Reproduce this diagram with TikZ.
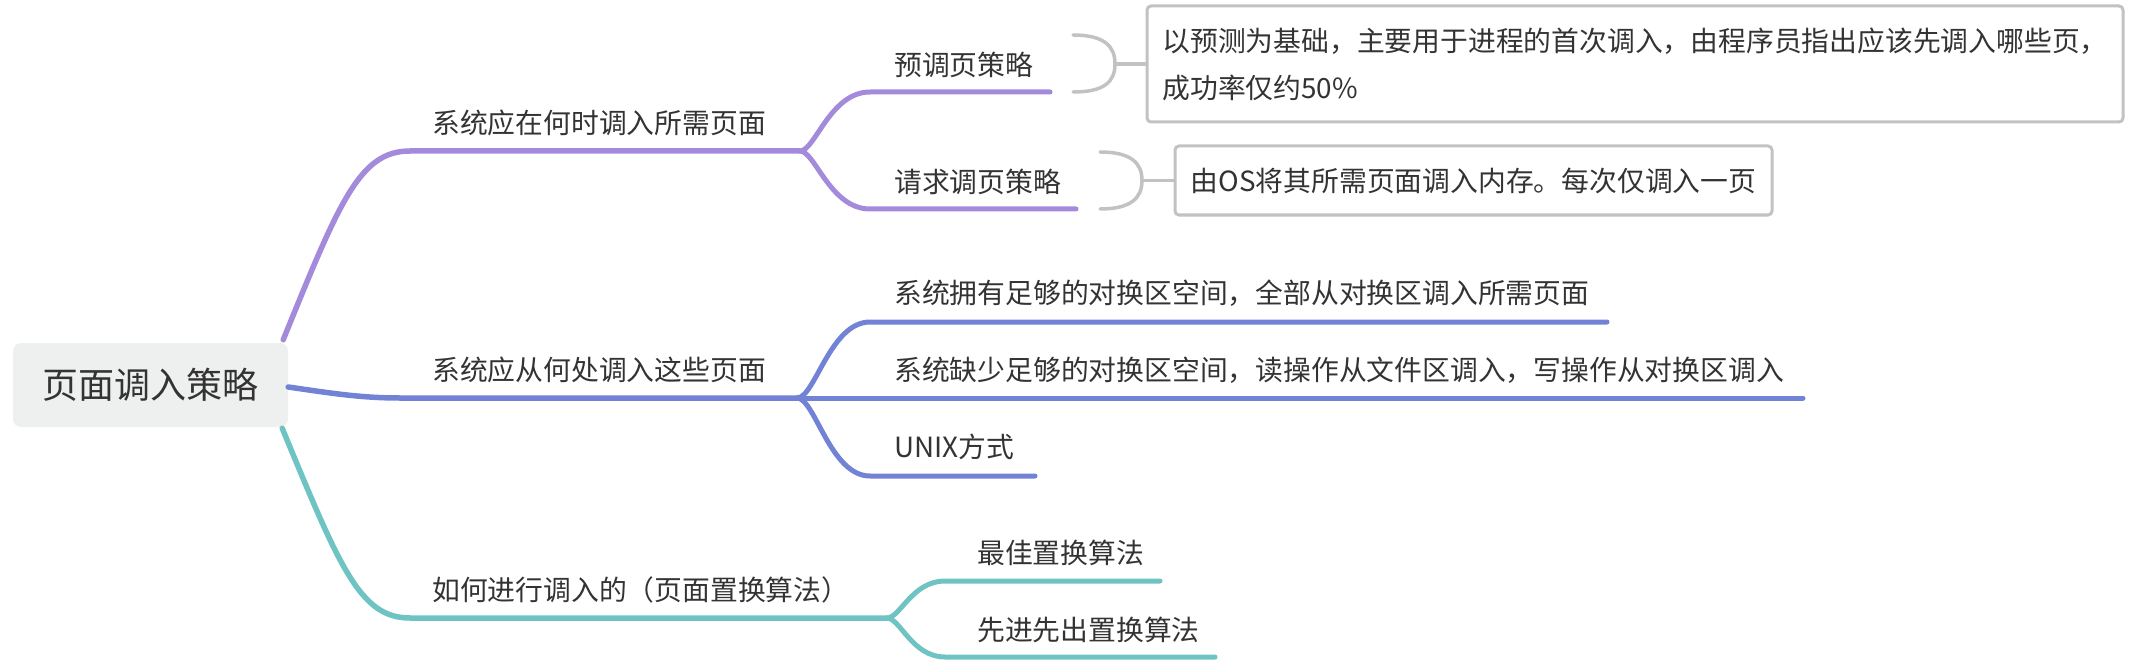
\documentclass[tikz,border=0pt]{standalone}
\usepackage{fontspec}
\setmainfont{Noto Sans CJK SC}
\usetikzlibrary{calc}
\definecolor{cpur}{HTML}{A48ADB}
\definecolor{cblu}{HTML}{7283D6}
\definecolor{ctea}{HTML}{6FC4C3}
\definecolor{cgry}{HTML}{C2C2C2}
\definecolor{ctxt}{HTML}{333333}
\definecolor{croot}{HTML}{EEF0EF}
\begin{document}
\begin{tikzpicture}[x=1pt,y=-1pt,
  lbl/.style={anchor=west, inner sep=0pt, text=ctxt, font=\fontsize{27.8}{33}\selectfont, text height=23pt, text depth=2pt},
  rootbox/.style={fill=croot, rounded corners=8pt, minimum width=275pt, minimum height=84pt, inner sep=0pt, text=ctxt, font=\fontsize{36}{40}\selectfont, text height=30pt, text depth=2.5pt},
  notebox/.style={draw=cgry, line width=3pt, rounded corners=4pt, inner sep=0pt, text=ctxt, align=left, font=\fontsize{27.8}{47}\selectfont},
  mainln/.style={line width=5.5pt, line cap=round},
  subln/.style={line width=5pt, line cap=round},
  brk/.style={draw=cgry, line width=3.5pt, line cap=round}]
\useasboundingbox (0,0) rectangle (2138,663);

% root
\node[rootbox] (root) at (150.5,385) {页面调入策略};

% level-1 labels
\node[lbl] (b1) at (432,123) {系统应在何时调入所需页面};
\node[lbl] (b2) at (432,370) {系统应从何处调入这些页面};
\node[lbl] (b3) at (432,590) {如何进行调入的（页面置换算法）};

% level-2 labels
\node[lbl] (c11) at (894,65) {预调页策略};
\node[lbl] (c12) at (894,182) {请求调页策略};
\node[lbl] (c21) at (894,293) {系统拥有足够的对换区空间，全部从对换区调入所需页面};
\node[lbl] (c22) at (894,370) {系统缺少足够的对换区空间，读操作从文件区调入，写操作从对换区调入};
\node[lbl] (c23) at (894,447) {UNIX方式};
\node[lbl] (c31) at (977,553) {最佳置换算法};
\node[lbl] (c32) at (977,630) {先进先出置换算法};

% notes
\node[notebox, minimum width=976pt, minimum height=116pt] (n1) at (1635,64)
  {以预测为基础，主要用于进程的首次调入，由程序员指出应该先调入哪些页，\\成功率仅约50\%};
\node[notebox, minimum width=597pt, minimum height=69pt] (n2) at (1473.5,180.5)
  {由OS将其所需页面调入内存。每次仅调入一页};

% coordinates of branch lines
\coordinate (p0) at ($(root.north east)+(-5,-3)$);
\coordinate (p1) at (410,151);
\coordinate (pf) at (800,151);
\coordinate (p11) at (870,92);
\coordinate (p11e) at (1050,92);
\coordinate (p12) at (870,209);
\coordinate (p12e) at (1076,209);

\coordinate (q0) at ($(root.east)+(0,2)$);
\coordinate (q1) at (400,398);
\coordinate (qf) at (797,398);
\coordinate (q21) at (870,322);
\coordinate (q21e) at (1607,322);
\coordinate (q22e) at (1803,398);
\coordinate (q23) at (870,476);
\coordinate (q23e) at (1035,476);

\coordinate (r0) at ($(root.south east)+(-6,1)$);
\coordinate (r1) at (410,618);
\coordinate (rf) at (887,618);
\coordinate (r31) at (945,581);
\coordinate (r31e) at (1160,581);
\coordinate (r32) at (945,657);
\coordinate (r32e) at (1215,657);

% purple branch
\draw[mainln, cpur] (p0) .. controls (340,200) and (360,151) .. (p1) -- (pf);
\draw[subln, cpur] (pf) .. controls (815,151) and (830,92) .. (p11) -- (p11e);
\draw[subln, cpur] (pf) .. controls (815,151) and (830,209) .. (p12) -- (p12e);

% blue branch
\draw[mainln, cblu] (q0) .. controls (330,393) and (360,398) .. (q1) -- (qf);
\draw[subln, cblu] (qf) .. controls (815,398) and (830,322) .. (q21) -- (q21e);
\draw[subln, cblu] (qf) -- (q22e);
\draw[subln, cblu] (qf) .. controls (815,398) and (830,476) .. (q23) -- (q23e);

% teal branch
\draw[mainln, ctea] (r0) .. controls (340,568) and (360,618) .. (r1) -- (rf);
\draw[subln, ctea] (rf) .. controls (900,618) and (912,581) .. (r31) -- (r31e);
\draw[subln, ctea] (rf) .. controls (900,618) and (912,657) .. (r32) -- (r32e);

% brackets to notes
\coordinate (k1a) at (1073,35);
\coordinate (k1m) at (1115,64);
\coordinate (k1b) at (1073,92);
\draw[brk] (k1a) .. controls (1104,35) and (1115,46) .. (k1m) .. controls (1115,82) and (1104,92) .. (k1b);
\draw[brk, line cap=butt] (k1m) -- (n1.west);

\coordinate (k2a) at (1100,152);
\coordinate (k2m) at (1142,180.5);
\coordinate (k2b) at (1100,209);
\draw[brk] (k2a) .. controls (1131,152) and (1142,163) .. (k2m) .. controls (1142,198) and (1131,209) .. (k2b);
\draw[brk, line cap=butt] (k2m) -- (n2.west);
\end{tikzpicture}
\end{document}
